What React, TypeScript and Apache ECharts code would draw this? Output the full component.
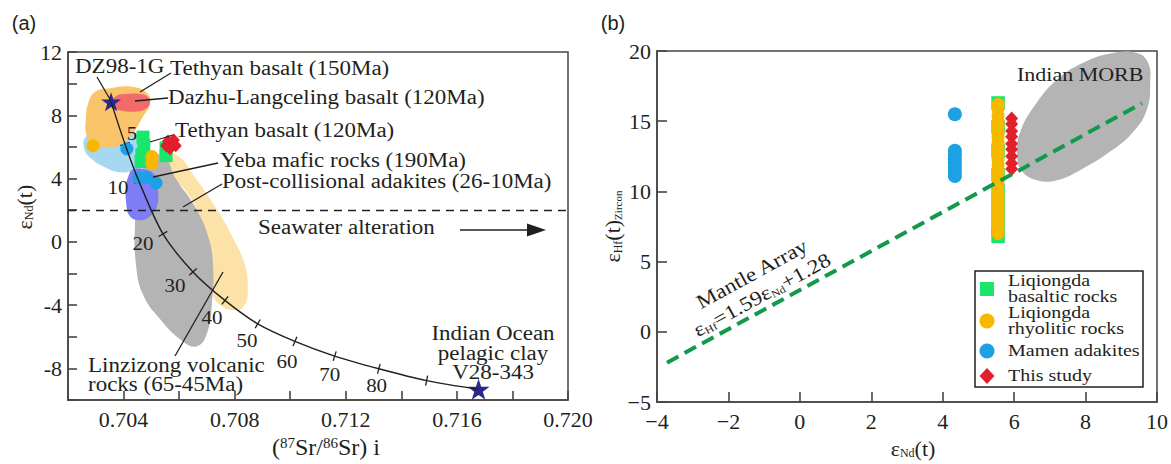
import React, { useEffect, useRef } from "react";
import * as echarts from "echarts";

const SERIF = '"Liberation Serif", "Times New Roman", Times, serif';
const SANS = '"Liberation Sans", Arial, Helvetica, sans-serif';
const INK = "#231f20";
const AXIS = "#4a4442";

const C_GREEN = "#19e66b";
const C_ORANGE = "#f7b900";
const C_BLUE = "#1ca2e4";
const C_RED = "#e2202b";
const C_STAR = "#2b2a8a";

// ---------- Panel (a): εNd(t) vs (87Sr/86Sr)i ----------
// mixing curve between DZ98-1G and V28-343 (vertices carry the % ticks)
const mixingCurve: number[][] = [
  [0.70355, 8.85],
  [0.70405, 6.19],
  [0.70455, 3.84],
  [0.70542, 0.5],
  [0.7065, -1.9],
  [0.70765, -3.7],
  [0.70883, -5.18],
  [0.71017, -6.29],
  [0.7116, -7.22],
  [0.71319, -8.02],
  [0.71491, -8.77],
  [0.71678, -9.32],
];
const mixingTickIndex = [1, 2, 3, 4, 5, 6, 7, 8, 9, 10];
const mixingLabels: [number, number, string][] = [
  [0.7043, 6.87, "5"],
  [0.7038, 3.41, "10"],
  [0.7047, -0.11, "20"],
  [0.70585, -2.77, "30"],
  [0.70718, -4.75, "40"],
  [0.70844, -6.23, "50"],
  [0.70988, -7.53, "60"],
  [0.71142, -8.4, "70"],
  [0.71311, -9.08, "80"],
];
const dz98Star: number[][] = [[0.70355, 8.85]];
const clayStar: number[][] = [[0.71678, -9.32]];

const aGreen: number[][] = [
  [0.7047, 6.62], [0.70473, 6.13], [0.70466, 5.51], [0.70463, 5.08], [0.70553, 5.94], [0.70553, 5.45],
];
const aOrange: number[][] = [[0.7029, 6.07], [0.70502, 5.39], [0.70502, 4.95]];
const aBlue: number[][] = [[0.70412, 5.88], [0.70455, 4.03], [0.70481, 4.09], [0.70517, 3.72]];
const aRed: number[][] = [[0.7056, 6.38], [0.70581, 6.44], [0.70588, 6.07], [0.70567, 5.88], [0.70553, 6.07]];

const postCollisional: number[][] = [
  [0.70538, 5.63], [0.70596, 5.45], [0.70657, 4.09], [0.70729, 2.23], [0.7079, 0.38], [0.70837, -1.47],
  [0.70847, -3.02], [0.70837, -3.95], [0.70808, -4.32], [0.70754, -4.07], [0.70722, -3.33], [0.70718, -1.47],
  [0.70693, 0.69], [0.70639, 2.85], [0.70567, 4.4],
];
const linzizong: number[][] = [
  [0.70488, 5.45], [0.70549, 5.33], [0.70585, 4.09], [0.70657, 2.23], [0.70704, 0.38], [0.70722, -1.47],
  [0.70718, -3.95], [0.707, -5.8], [0.70664, -6.6], [0.70614, -6.29], [0.70531, -4.87], [0.7047, -3.33],
  [0.70445, -1.47], [0.70441, 1.0], [0.70452, 2.85], [0.70466, 4.4],
];
const tethyan120: number[][] = [
  [0.70261, 6.56], [0.70297, 6.99], [0.70351, 7.06], [0.70416, 6.87], [0.70477, 6.56], [0.70495, 5.94],
  [0.70477, 5.2], [0.70441, 4.58], [0.70387, 4.4], [0.70333, 4.71], [0.70279, 5.33], [0.70258, 5.94],
];
const yeba: number[][] = [
  [0.70416, 4.09], [0.70434, 4.58], [0.70477, 4.58], [0.70513, 4.21], [0.70524, 3.16], [0.7052, 2.23],
  [0.70495, 1.62], [0.70459, 1.37], [0.70423, 1.62], [0.70409, 2.54], [0.70409, 3.47],
];
const tethyan150: number[][] = [
  [0.70272, 8.72], [0.70297, 9.47], [0.70351, 9.71], [0.70441, 9.78], [0.70488, 9.34], [0.70495, 8.72],
  [0.7047, 7.92], [0.70434, 6.87], [0.70394, 6.19], [0.70333, 5.94], [0.70286, 6.13], [0.70265, 6.87],
  [0.70265, 7.92],
];
const dazhu: number[][] = [
  [0.70358, 8.79], [0.70373, 9.22], [0.70409, 9.34], [0.70459, 9.34], [0.70488, 9.16], [0.70495, 8.79],
  [0.70481, 8.42], [0.70441, 8.23], [0.70394, 8.29], [0.70365, 8.48],
];

// ---------- Panel (b): εHf(t) vs εNd(t) ----------
const bBlueNd = 4.34;
const bBlueHf = [15.5, 12.9, 12.6, 12.3, 12.0, 11.7, 11.4, 11.1];
const bColumnNd = 5.55;
const bGreenHf = [16.3, 14.6, 12.9, 11.2, 10.1, 9.2, 8.3, 7.4, 6.8];
const bYellowHf = [
  16.2, 15.9, 15.4, 15.0, 14.7, 14.2, 13.9, 13.5, 13.0, 12.7, 12.3, 11.9, 11.5, 11.1, 10.8, 10.4, 9.9, 9.6,
  9.2, 8.8, 8.4, 8.0, 7.7, 7.3, 7.0,
];
const bRedNd = 5.93;
const bRedHf = [15.2, 14.8, 14.3, 13.9, 13.4, 13.0, 12.5, 12.0, 11.6];
const mantleArray: number[][] = [[-3.72, -2.19], [9.58, 16.28]];
const indianMORB: number[][] = [
  [6.08, 12.56], [6.17, 14.24], [6.64, 16.35], [7.2, 17.96], [7.93, 19.16], [8.77, 19.86], [9.44, 19.86],
  [9.75, 19.16], [9.81, 17.75], [9.72, 15.86], [9.33, 14.24], [8.69, 12.84], [7.93, 11.64], [7.2, 10.8],
  [6.64, 10.8], [6.22, 11.43],
];

// legend entries: label lines and symbol
const legendEntries: { lines: string[]; symbol: string; color: string }[] = [
  { lines: ["Liqiongda", "basaltic rocks"], symbol: "rect", color: C_GREEN },
  { lines: ["Liqiongda", "rhyolitic rocks"], symbol: "circle", color: C_ORANGE },
  { lines: ["Mamen adakites"], symbol: "circle", color: C_BLUE },
  { lines: ["This study"], symbol: "diamond", color: C_RED },
];

const STAR =
  "path://M0,-10 L2.29,-3.16 L9.51,-3.09 L3.71,1.21 L5.88,8.09 L0,3.9 L-5.88,8.09 L-3.71,1.21 L-9.51,-3.09 L-2.29,-3.16 Z";

function regionSeries(pts: number[][], color: string, axis: number) {
  return {
    type: "custom",
    xAxisIndex: axis,
    yAxisIndex: axis,
    silent: true,
    data: [pts[0]],
    renderItem: (_p: any, api: any) => ({
      type: "polygon",
      shape: { points: pts.map((q) => api.coord(q)), smooth: 0.45 },
      style: { fill: color },
    }),
  };
}

function scatter(name: string, data: number[][], symbol: string, size: any, color: string, axis: number) {
  return {
    type: "scatter",
    name,
    data,
    symbol,
    symbolSize: size,
    xAxisIndex: axis,
    yAxisIndex: axis,
    silent: true,
    itemStyle: { color, opacity: 1 },
  };
}

const txt = (text: string, x: number, y: number, size = 23, align = "left", extra: any = {}) => ({
  type: "text",
  x,
  y,
  z: 100,
  scaleY: 0.87,
  silent: true,
  ...extra,
  style: { text, fill: INK, fontFamily: SERIF, fontSize: size, align, verticalAlign: "middle", ...(extra.style || {}) },
});
const seg = (x1: number, y1: number, x2: number, y2: number) => ({
  type: "line",
  z: 100,
  silent: true,
  shape: { x1, y1, x2, y2 },
  style: { stroke: INK, lineWidth: 1.3 },
});

function legendGraphics() {
  const out: any[] = [
    {
      type: "rect",
      z: 100,
      silent: true,
      shape: { x: 975, y: 271, width: 168, height: 116 },
      style: { fill: "#ffffff", stroke: INK, lineWidth: 1.5 },
    },
  ];
  const iconX = 987;
  const textX = 1008;
  let y = 273;
  const lh = 16;
  const gaps = [0, 0, 6, 9];
  legendEntries.forEach((e, i) => {
    y += gaps[i];
    const h = e.lines.length * lh;
    const cy = y + h / 2;
    const col = e.color;
    if (e.symbol === "rect") {
      out.push({ type: "rect", z: 101, silent: true, shape: { x: iconX - 7, y: cy - 7, width: 14, height: 14 }, style: { fill: col } });
    } else if (e.symbol === "circle") {
      out.push({ type: "circle", z: 101, silent: true, shape: { cx: iconX, cy, r: 7.5 }, style: { fill: col } });
    } else {
      out.push({
        type: "polygon",
        z: 101,
        silent: true,
        shape: { points: [[iconX, cy - 8], [iconX + 7.5, cy], [iconX, cy + 8], [iconX - 7.5, cy]] },
        style: { fill: col },
      });
    }
    e.lines.forEach((ln, k) => {
      out.push({
        type: "text",
        z: 101,
        x: textX,
        y: y + lh * k + lh / 2,
        scaleY: 0.8,
        silent: true,
        style: { text: ln, fill: INK, fontFamily: SERIF, fontSize: 20, align: "left", verticalAlign: "middle" },
      });
    });
    y += h;
  });
  return out;
}

const axisCommon = {
  type: "value",
  splitLine: { show: false },
  axisLine: { onZero: false, lineStyle: { color: AXIS, width: 1.6 } },
  axisTick: { inside: true, length: 9, lineStyle: { color: AXIS, width: 1.6 } },
};
const labelStyle = { fontFamily: SERIF, fontSize: 22, color: INK };
const subRich = {
  sub: { fontFamily: SERIF, fontSize: 12, color: INK, verticalAlign: "bottom" },
  sup: { fontFamily: SERIF, fontSize: 15, color: INK, verticalAlign: "top" },
  subs: { fontFamily: SERIF, fontSize: 11, color: INK, verticalAlign: "bottom" },
  p16: { fontSize: 10, width: 16 },
  p12: { fontSize: 10, width: 12 },
  p38: { fontSize: 10, width: 38 },
};
const minus = (v: number) => String(v).replace("-", "\u2212");

function buildOption() {
  return {
    animation: false,
    backgroundColor: "#ffffff",
    grid: [
      { left: 68, top: 52, width: 500, height: 356, show: true, borderColor: AXIS, borderWidth: 1.5 },
      { left: 657, top: 51, width: 500, height: 356, show: true, borderColor: AXIS, borderWidth: 1.5 },
    ],
    xAxis: [
      {
        ...axisCommon,
        gridIndex: 0,
        min: 0.702,
        max: 0.72,
        interval: 0.002,
        axisLabel: {
          ...labelStyle,
          margin: 8,
          formatter: (v: number) => (Math.round(v * 1000) % 4 === 0 ? v.toFixed(3) : ""),
        },
        name: "{p16| }({sup|87}Sr/{sup|86}Sr) i",
        nameLocation: "middle",
        nameGap: 32,
        nameTextStyle: { ...labelStyle, fontSize: 24, rich: subRich },
      },
      {
        ...axisCommon,
        gridIndex: 1,
        min: -4,
        max: 10,
        interval: 2,
        axisTick: { inside: true, length: 10, lineStyle: { color: AXIS, width: 1.6 } },
        axisLabel: { ...labelStyle, margin: 8, formatter: minus },
        name: "{p12| }ε{sub|Nd}(t)",
        nameLocation: "middle",
        nameGap: 30,
        nameTextStyle: { ...labelStyle, rich: subRich },
      },
    ],
    yAxis: [
      {
        ...axisCommon,
        gridIndex: 0,
        min: -10,
        max: 12,
        interval: 2,
        axisLabel: {
          ...labelStyle,
          margin: 6,
          formatter: (v: number) => (Math.round(v) % 4 === 0 ? String(Math.round(v)) : ""),
        },
        name: "{p38| }ε{sub|Nd}(t)",
        nameLocation: "middle",
        nameGap: 33,
        nameTextStyle: { ...labelStyle, rich: subRich },
      },
      {
        ...axisCommon,
        gridIndex: 1,
        min: -5,
        max: 20,
        interval: 5,
        axisTick: { inside: true, length: 10, lineStyle: { color: AXIS, width: 1.6 } },
        axisLabel: { ...labelStyle, margin: 6, formatter: minus },
        name: "ε{sub|Hf}(t){subs|Zircon}",
        nameLocation: "middle",
        nameGap: 32,
        nameTextStyle: { ...labelStyle, rich: subRich },
      },
    ],
    series: [
      // ---- panel (a) fields ----
      regionSeries(postCollisional, "#fce2a6", 0),
      regionSeries(linzizong, "#b4b4b4", 0),
      regionSeries(tethyan120, "#a6d8f2", 0),
      regionSeries(yeba, "#7d7df6", 0),
      regionSeries(tethyan150, "#f9c46a", 0),
      regionSeries(dazhu, "#f26b6b", 0),
      {
        type: "line",
        xAxisIndex: 0,
        yAxisIndex: 0,
        data: mixingCurve,
        smooth: 0.3,
        symbol: "none",
        silent: true,
        lineStyle: { color: INK, width: 1.4 },
        markLine: {
          silent: true,
          symbol: "none",
          label: { show: false },
          lineStyle: { type: [8, 6], color: INK, width: 1.3 },
          data: [{ yAxis: 2 }],
        },
      },
      {
        type: "custom",
        xAxisIndex: 0,
        yAxisIndex: 0,
        silent: true,
        data: mixingTickIndex.map((i) => mixingCurve[i]),
        renderItem: (params: any, api: any) => {
          const i = mixingTickIndex[params.dataIndex];
          const p = api.coord(mixingCurve[i]);
          const a = api.coord(mixingCurve[i - 1]);
          const b = api.coord(mixingCurve[i + 1]);
          let dx = b[0] - a[0];
          let dy = b[1] - a[1];
          const L = Math.hypot(dx, dy) || 1;
          dx /= L;
          dy /= L;
          const h = 5;
          return {
            type: "line",
            shape: { x1: p[0] - dy * h, y1: p[1] + dx * h, x2: p[0] + dy * h, y2: p[1] - dx * h },
            style: { stroke: INK, lineWidth: 1.3 },
          };
        },
      },
      {
        type: "custom",
        xAxisIndex: 0,
        yAxisIndex: 0,
        silent: true,
        data: mixingLabels.map((m) => [m[0], m[1]]),
        renderItem: (params: any, api: any) => {
          const m = mixingLabels[params.dataIndex];
          const p = api.coord([m[0], m[1]]);
          return {
            type: "text",
            x: p[0],
            y: p[1],
            scaleY: 0.87,
            style: { text: m[2], fill: INK, fontFamily: SERIF, fontSize: 21, align: "center", verticalAlign: "middle" },
          };
        },
      },
      scatter("Liqiongda basaltic rocks", aGreen, "rect", 13, C_GREEN, 0),
      scatter("Liqiongda rhyolitic rocks", aOrange, "circle", 13, C_ORANGE, 0),
      scatter("Mamen adakites", aBlue, "circle", 13, C_BLUE, 0),
      scatter("This study", aRed, "diamond", [12, 13], C_RED, 0),
      scatter("DZ98-1G", dz98Star, STAR, [20, 19], C_STAR, 0),
      scatter("V28-343", clayStar, STAR, [22, 21], C_STAR, 0),
      // ---- panel (b) ----
      regionSeries(indianMORB, "#b4b4b4", 1),
      {
        type: "line",
        xAxisIndex: 1,
        yAxisIndex: 1,
        data: mantleArray,
        symbol: "none",
        silent: true,
        lineStyle: { color: "#119a4a", width: 4, type: [13, 7] },
      },
      scatter("Liqiongda basaltic rocks", bGreenHf.map((y) => [bColumnNd, y]), "rect", 13.5, C_GREEN, 1),
      scatter("Liqiongda rhyolitic rocks", bYellowHf.map((y) => [bColumnNd, y]), "circle", 13, C_ORANGE, 1),
      scatter("Mamen adakites", bBlueHf.map((y) => [bBlueNd, y]), "circle", 14, C_BLUE, 1),
      scatter("This study", bRedHf.map((y) => [bRedNd, y]), "diamond", [13, 14], C_RED, 1),
    ],
    graphic: [
      txt("(a)", 24, 23, 20, "center", { scaleY: 1, style: { fontFamily: SANS } }),
      txt("(b)", 613, 23, 20, "center", { scaleY: 1, style: { fontFamily: SANS } }),
      txt("DZ98-1G", 75, 67),
      txt("Tethyan basalt (150Ma)", 170, 69),
      txt("Dazhu-Langceling basalt (120Ma)", 168, 98),
      txt("Tethyan basalt (120Ma)", 175, 131),
      txt("Yeba mafic rocks (190Ma)", 220, 161),
      txt("Post-collisional adakites (26-10Ma)", 222, 182),
      txt("Seawater alteration", 258, 228),
      txt("Linzizong volcanic", 88, 366),
      txt("rocks (65-45Ma)", 88, 385),
      txt("Indian Ocean", 493, 334, 23, "center"),
      txt("pelagic clay", 493, 354, 23, "center"),
      txt("V28-343", 493, 373, 23, "center"),
      seg(97, 77, 111, 101),
      seg(140, 92, 171, 73),
      seg(135, 101, 168, 98),
      seg(150, 142, 173, 135),
      seg(153, 177, 218, 163),
      seg(183, 207, 222, 184),
      seg(175, 356, 223, 272),
      seg(460, 230, 530, 230),
      {
        type: "polygon",
        z: 100,
        silent: true,
        shape: { points: [[546, 230], [527, 223.5], [527, 236.5]] },
        style: { fill: INK },
      },
      txt("Indian MORB", 1017, 75, 22),
      txt("Mantle Array", 752, 274, 23, "center", { rotation: 0.5 }),
      {
        type: "text",
        x: 762,
        y: 295,
        z: 100,
        rotation: 0.5,
        scaleY: 0.87,
        silent: true,
        style: {
          text: "ε{s|Hf}=1.59ε{s|Nd}+1.28",
          fill: INK,
          fontFamily: SERIF,
          fontSize: 23,
          align: "center",
          verticalAlign: "middle",
          rich: { s: { fontFamily: SERIF, fontSize: 12, fill: INK, verticalAlign: "bottom" } },
        },
      },
      ...legendGraphics(),
    ],
  };
}

export default function App() {
  const ref = useRef<HTMLDivElement>(null);
  useEffect(() => {
    const chart = echarts.init(ref.current as HTMLDivElement, undefined, { renderer: "svg" });
    chart.setOption(buildOption() as any);
    return () => chart.dispose();
  }, []);
  return (
    <div
      ref={ref}
      style={{ position: "absolute", left: 0, top: 0, width: 1171, height: 464, background: "#ffffff" }}
    />
  );
}
